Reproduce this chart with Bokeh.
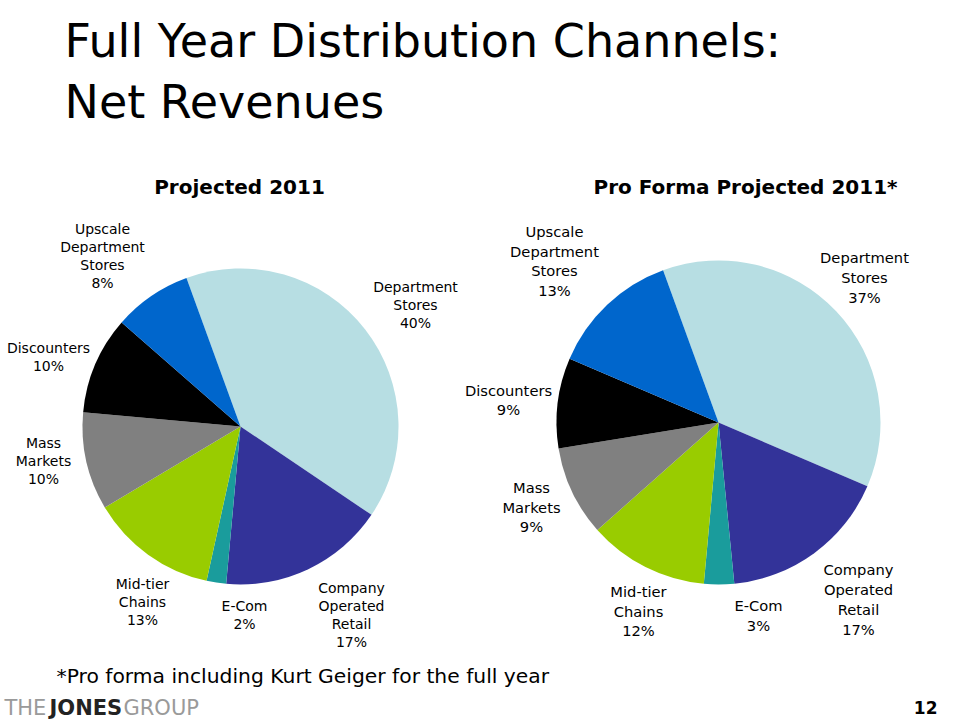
import math
from bokeh.plotting import figure
from bokeh.models import Range1d, ColumnDataSource
from bokeh.core.properties import value
from bokeh.embed import file_html
from bokeh.resources import INLINE

# ---------------- data ----------------
categories = ["Department Stores", "Company Operated Retail", "E-Com",
              "Mid-tier Chains", "Mass Markets", "Discounters",
              "Upscale Department Stores"]
label_lines = [["Department", "Stores"], ["Company", "Operated", "Retail"], ["E-Com"],
               ["Mid-tier", "Chains"], ["Mass", "Markets"], ["Discounters"],
               ["Upscale", "Department", "Stores"]]
projected_2011 = [40, 17, 2, 13, 10, 10, 8]
pro_forma_2011 = [37, 17, 3, 12, 9, 9, 13]
slice_colors = ["#B7DEE3", "#333399", "#1A9C9C", "#99CC00", "#808080", "#000000", "#0066CC"]

title_lines = ["Full Year Distribution Channels:", "Net Revenues"]
subtitle_left = "Projected 2011"
subtitle_right = "Pro Forma Projected 2011*"
footnote = "*Pro forma including Kurt Geiger for the full year"
logo_parts = ["THE", "JONES", "GROUP"]
page_number = "12"

# ---------------- layout (page pixel coordinates) ----------------
FONT = "DejaVu Sans"
W, H = 960, 720
p = figure(width=W, height=H, output_backend="svg", toolbar_location=None,
           x_range=Range1d(0, W), y_range=Range1d(-H, 0),
           min_border=0, outline_line_color=None, background_fill_color="white",
           border_fill_color="white")
p.axis.visible = False
p.grid.visible = False


def add_text(x, y, text, size, color="black", style="normal", align="center", baseline="middle"):
    p.text(x=[x], y=[-y], text=[text], text_font=value(FONT), text_font_size=value(size),
           text_color=color, text_font_style=style, text_align=align, text_baseline=baseline)


START = -20.0  # first slice starts 20 degrees counter-clockwise of 12 o'clock


def draw_pie(values, cx, cy, r, label_pos, spacing, font_size):
    th_start, th_end = [], []
    acc = START
    for v in values:
        th_start.append(acc)
        acc += v * 3.6
        th_end.append(acc)
    src = ColumnDataSource(dict(
        x=[cx] * len(values), y=[-cy] * len(values),
        start=[math.radians(90 - e) for e in th_end],
        end=[math.radians(90 - s) for s in th_start],
        color=slice_colors, name=categories, val=values))
    p.wedge(x="x", y="y", radius=r, start_angle="start", end_angle="end",
            direction="anticlock", fill_color="color", line_color=None, source=src)
    for lines, v, (lx, ly) in zip(label_lines, values, label_pos):
        all_lines = lines + [f"{v}%"]
        n = len(all_lines)
        for i, t in enumerate(all_lines):
            add_text(lx, ly + (i - (n - 1) / 2) * spacing, t, font_size)


# label block centres
left_labels = [(415, 304), (351, 614), (244, 614), (142, 601), (43, 460), (48, 356), (102, 255.5)]
right_labels = [(864, 277), (858, 599), (758, 615), (638, 610.5), (531, 506.5), (508, 399.5), (554, 260.5)]

draw_pie(projected_2011, 240, 426, 158, left_labels, 18, "14px")
draw_pie(pro_forma_2011, 718, 422, 162, right_labels, 19.7, "14.7px")

# titles
add_text(64, 40, title_lines[0], "46px", align="left")
add_text(64, 101, title_lines[1], "46px", align="left")
add_text(239, 186, subtitle_left, "20px", style="bold")
add_text(745, 186, subtitle_right, "20px", style="bold")
add_text(56, 675, footnote, "20.3px", align="left")

# logo and page number
add_text(4, 707, logo_parts[0], "21px", color="#9A9A9A", align="left")
add_text(49, 707, logo_parts[1], "21px", color="#222222", style="bold", align="left")
add_text(123, 707, logo_parts[2], "21px", color="#9A9A9A", align="left")
add_text(937, 707, page_number, "17px", style="bold", align="right")

open("out.html", "w").write(file_html(p, INLINE))
